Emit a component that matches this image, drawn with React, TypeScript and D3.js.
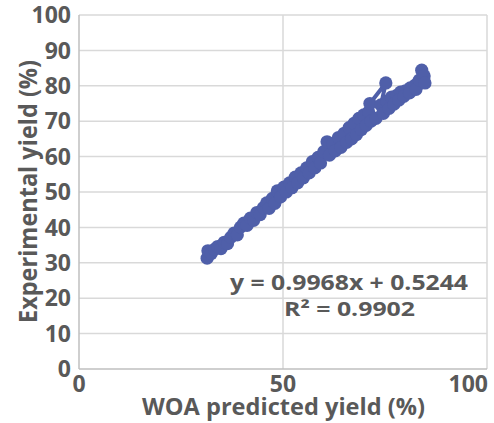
import React from "react";
import * as d3 from "d3";

const predicted = [
  31.4, 31.6, 32.4, 33.2, 34.0, 34.8, 35.6, 36.4, 37.2, 38.0, 38.8, 39.6, 40.4, 41.2, 42.0, 42.8,
  43.6, 44.4, 45.2, 46.0, 46.6, 47.4, 48.0, 48.6, 49.4, 50.2, 50.8, 51.6, 52.2, 53.0, 53.6, 54.4,
  55.0, 55.8, 56.4, 57.2, 57.8, 58.6, 59.2, 60.0, 60.8, 61.4, 62.2, 62.8, 63.6, 64.2, 65.0, 65.6,
  66.2, 66.8, 67.4, 68.0, 68.6, 69.2, 69.8, 70.4, 71.0, 71.6, 71.3, 75.2, 74.0, 72.8, 75.4, 74.6,
  76.6, 76.0, 77.8, 77.2, 78.8, 78.4, 80.0, 79.6, 81.2, 81.0, 82.4, 82.6, 83.4, 84.0, 84.6, 84.8,
];
const experimental = [
  31.3, 33.4, 32.6, 33.8, 34.6, 34.0, 35.8, 35.4, 37.2, 38.4, 37.9, 40.1, 41.2, 40.6, 42.6, 42.0,
  44.2, 43.6, 45.6, 46.9, 45.4, 48.2, 46.8, 50.3, 48.6, 51.4, 50.0, 52.6, 51.2, 54.2, 52.6, 55.4,
  54.0, 56.8, 55.4, 58.6, 56.8, 59.8, 58.2, 61.4, 64.2, 60.4, 63.6, 61.6, 65.4, 62.6, 66.6, 64.0,
  68.2, 65.0, 69.4, 66.2, 70.8, 67.6, 71.8, 68.8, 72.6, 70.0, 75.0, 80.8, 74.6, 70.8, 75.6, 72.2,
  76.8, 73.6, 77.2, 74.8, 78.2, 76.0, 78.6, 77.0, 79.4, 78.0, 80.2, 79.0, 81.6, 84.4, 82.8, 80.8,
];
const xTicks = [0, 50, 100];
const yTicks = [0, 10, 20, 30, 40, 50, 60, 70, 80, 90, 100];
const xTitle = "WOA predicted yield (%)";
const yTitle = "Experimental yield (%)";
const equation = "y = 0.9968x + 0.5244";
const rSquared = "R\u00b2 = 0.9902";

const W = 494;
const H = 423;
const left = 79;
const right = 487;
const top = 15;
const bottom = 369;
const textColor = "#595959";
const gridColor = "#d9d9d9";
const markColor = "#4f5fa9";
const font = "'Open Sans', 'Liberation Sans', sans-serif";

export default function App() {
  const x = d3.scaleLinear().domain([0, 100]).range([left, right]);
  const y = d3.scaleLinear().domain([0, 100]).range([bottom, top]);
  const pts = predicted.map((p, i) => [p, experimental[i]] as [number, number]);
  const line = d3
    .line<[number, number]>()
    .x((d) => x(d[0]))
    .y((d) => y(d[1]));

  return (
    <svg
      width={W}
      height={H}
      style={{ position: "absolute", left: 0, top: 0, background: "#fff" }}
      fontFamily={font}
      fontWeight={700}
    >
      <rect width={W} height={H} fill="#fff" />
      {yTicks
        .filter((t) => t > 0)
        .map((t) => (
          <line key={"gy" + t} x1={left} x2={right} y1={y(t)} y2={y(t)} stroke={gridColor} strokeWidth={1.5} />
        ))}
      {xTicks
        .filter((t) => t > 0)
        .map((t) => (
          <line key={"gx" + t} x1={x(t)} x2={x(t)} y1={top} y2={bottom} stroke={gridColor} strokeWidth={1.5} />
        ))}
      <line x1={left} x2={left} y1={top} y2={bottom} stroke="#bfbfbf" strokeWidth={1.5} />
      <line x1={left} x2={right} y1={bottom} y2={bottom} stroke="#bfbfbf" strokeWidth={1.5} />

      <path d={line(pts) || ""} fill="none" stroke={markColor} strokeWidth={4} strokeLinejoin="round" />
      {pts.map((d, i) => (
        <circle key={i} cx={x(d[0])} cy={y(d[1])} r={6.6} fill={markColor} />
      ))}

      {yTicks.map((t) => (
        <text key={"ty" + t} x={71} y={y(t)} dy="0.36em" textAnchor="end" fontSize={23} fill={textColor}>
          {t}
        </text>
      ))}
      {xTicks.map((t, i) => (
        <text
          key={"tx" + t}
          x={i === xTicks.length - 1 ? right + 1 : x(t)}
          y={392}
          textAnchor={i === xTicks.length - 1 ? "end" : "middle"}
          fontSize={23}
          fill={textColor}
        >
          {t}
        </text>
      ))}

      <text
        x={283.5}
        y={415}
        textAnchor="middle"
        fontSize={23}
        fill={textColor}
        textLength={283}
        lengthAdjust="spacingAndGlyphs"
      >
        {xTitle}
      </text>
      <text
        transform={`translate(37,191.5) rotate(-90)`}
        textAnchor="middle"
        fontSize={25}
        fill={textColor}
        textLength={263}
        lengthAdjust="spacingAndGlyphs"
      >
        {yTitle}
      </text>

      <text x={349} y={290} textAnchor="middle" fontSize={21} fill={textColor} textLength={238} lengthAdjust="spacingAndGlyphs">
        {equation}
      </text>
      <text x={349.5} y={316} textAnchor="middle" fontSize={20} fill={textColor} textLength={131} lengthAdjust="spacingAndGlyphs">
        {rSquared}
      </text>
    </svg>
  );
}
